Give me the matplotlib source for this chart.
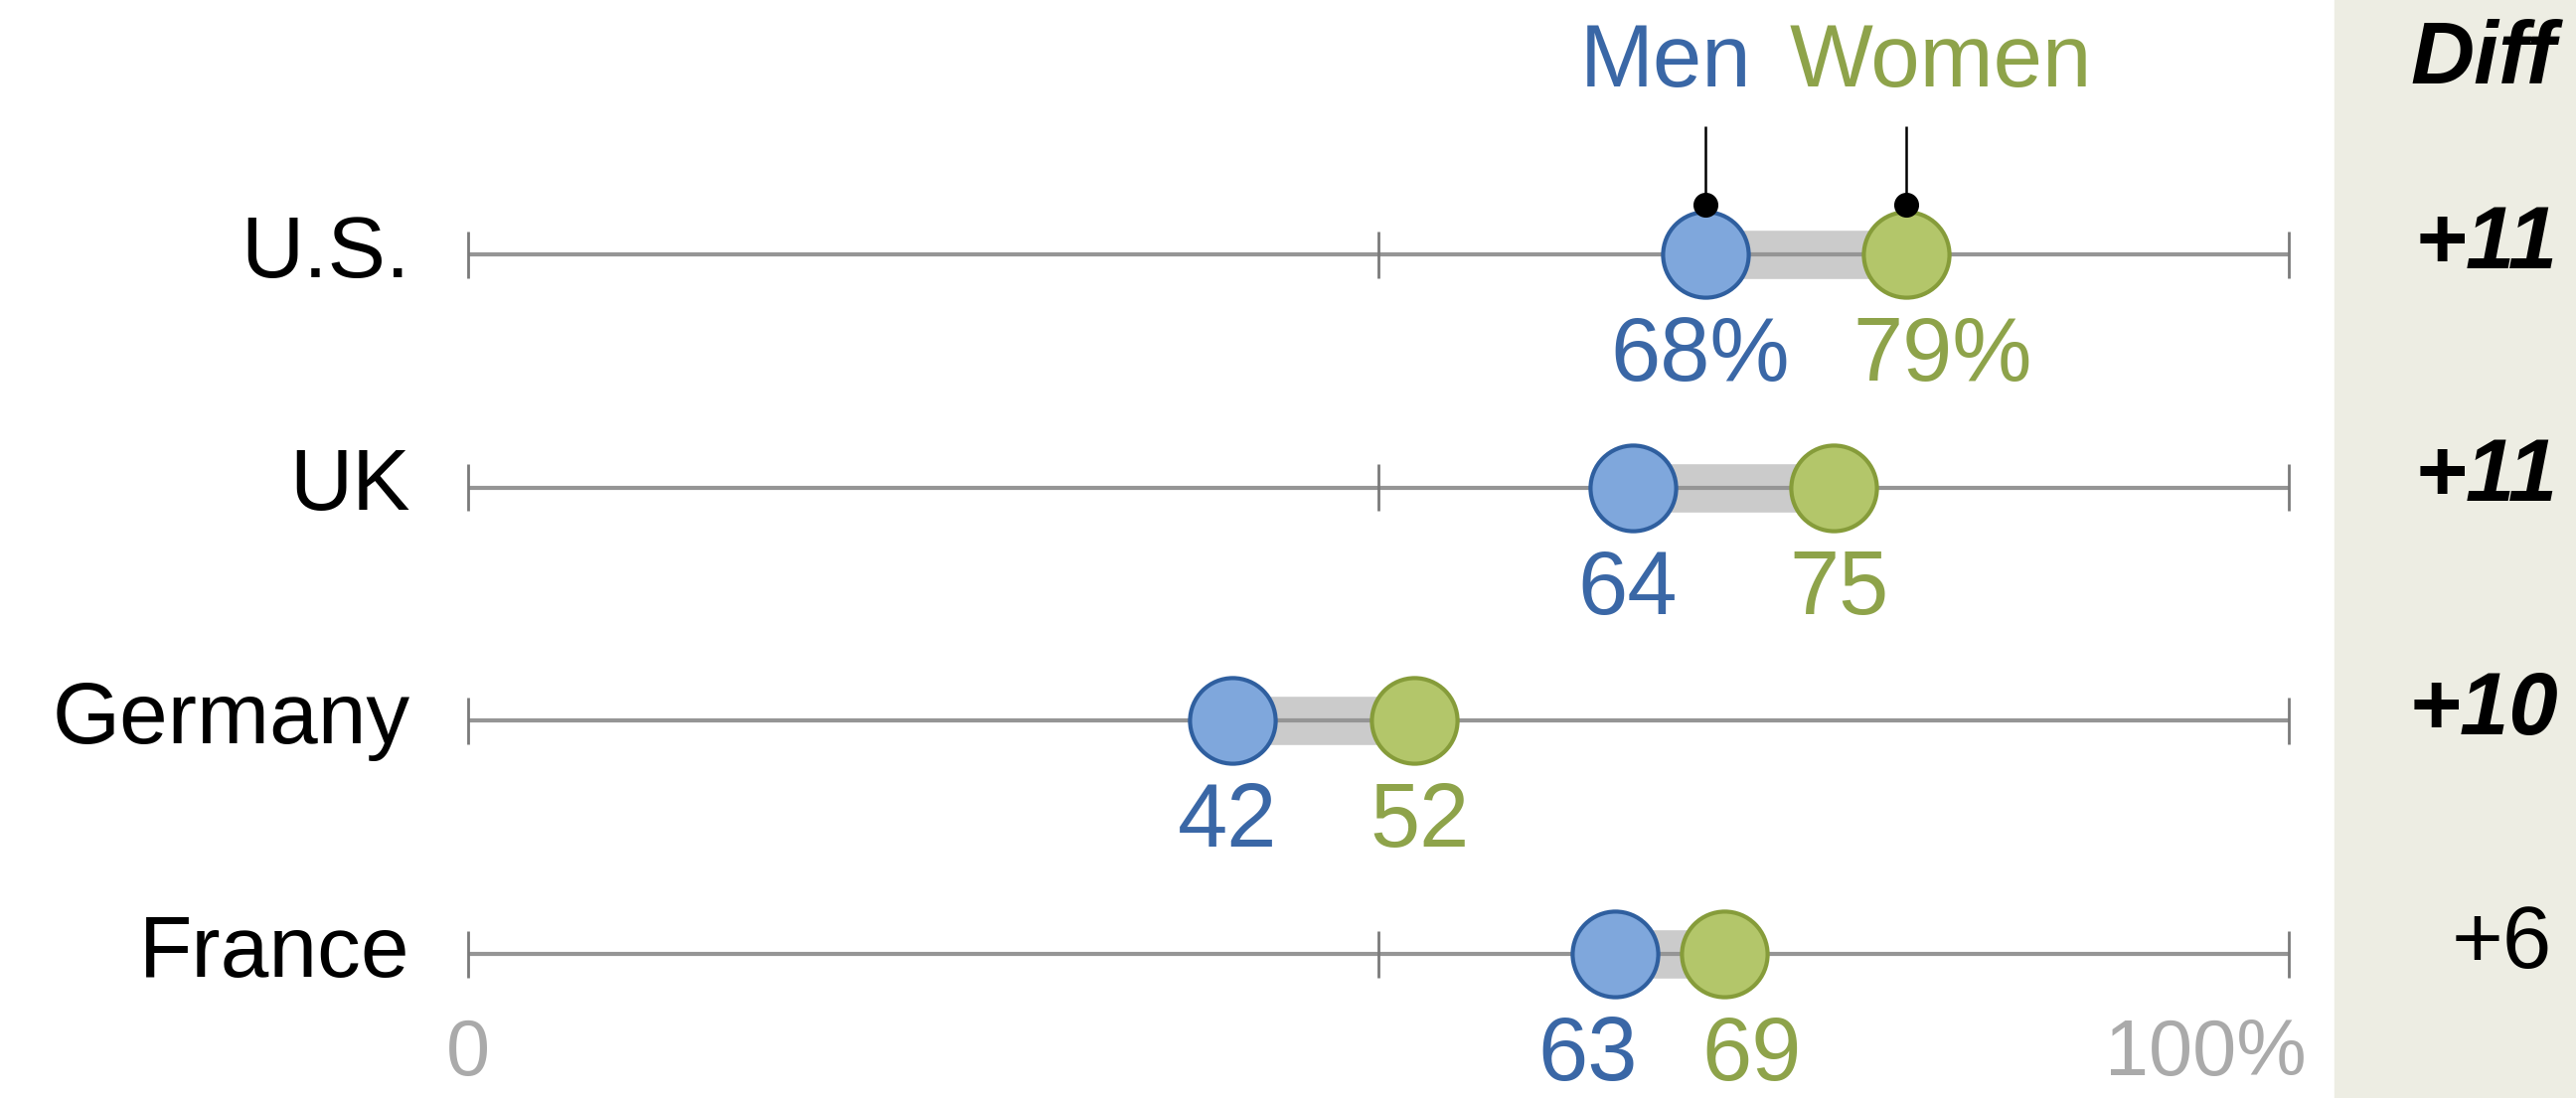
import matplotlib.pyplot as plt
import matplotlib.patches as patches

plt.rcParams['font.family'] = ['Liberation Sans', 'DejaVu Sans']

# data
countries = ["U.S.", "UK", "Germany", "France"]
men = [68, 64, 42, 63]
women = [79, 75, 52, 69]
significant = [True, True, True, False]
scale_ticks = [0, 50, 100]

men_fill = "#7fa7dc"
men_edge = "#2f5f9f"
men_text = "#3a67a6"
women_fill = "#b3c66a"
women_edge = "#869c3a"
women_text = "#8ea34a"

fig = plt.figure(figsize=(25.92, 11.05), dpi=100)
ax = fig.add_axes([0, 0, 1, 1])
ax.set_xlim(-25.69, 115.79)
ax.set_ylim(3.617, -1.091)
ax.axis("off")

# beige panel for the difference column
ax.add_patch(patches.Rectangle((2349 / 2592, 0), 1 - 2349 / 2592, 1,
                               transform=ax.transAxes, color="#ededE3", zorder=0))

rows = list(range(len(countries)))

#the scale lines with ticks at 0, 50 and 100
ax.hlines(rows, scale_ticks[0], scale_ticks[-1], color="#959595", lw=3, zorder=2)
for r in rows:
    ax.vlines(scale_ticks, r - 0.1, r + 0.1, color="#7a7a7a", lw=2, zorder=2)

#gray bar between the two dots
ax.hlines(rows, men, women, color="#cbcbcb", lw=35, zorder=1)

ax.scatter(men, rows, s=3850, color=men_fill, edgecolors=men_edge, linewidths=3, zorder=3)
ax.scatter(women, rows, s=3850, color=women_fill, edgecolors=women_edge, linewidths=3, zorder=3)

#value labels under the dots
for i, r in enumerate(rows):
    suffix = "%" if i == 0 else ""
    spread = 1.2 if women[i] - men[i] < 8 else 0.0
    w_nudge = 2.0 if suffix else 0.3
    ax.text(men[i] - 0.3 - spread, r + 0.44, str(men[i]) + suffix, color=men_text,
            fontsize=65, ha="center", va="center")
    ax.text(women[i] + w_nudge + spread, r + 0.44, str(women[i]) + suffix, color=women_text,
            fontsize=65, ha="center", va="center")
    ax.text(-3.15, r, countries[i], fontsize=63, ha="right", va="center", color="black")
    diff = women[i] - men[i]
    if significant[i]:
        ax.text(2574 / 2592, r - 0.04, "+" + str(diff), transform=ax.get_yaxis_transform(),
                fontsize=64, ha="right", va="center", fontweight="bold", style="italic")
    else:
        ax.text(2568 / 2592, r - 0.04, "+" + str(diff), transform=ax.get_yaxis_transform(),
                fontsize=64, ha="right", va="center")

#legend labels with leader lines to the U.S. dots
ax.text(men[0] - 2.2, -0.82, "Men", color=men_text, fontsize=64, ha="center", va="center")
ax.text(women[0] + 1.9, -0.82, "Women", color=women_text, fontsize=64, ha="center", va="center")
ax.vlines([men[0], women[0]], -0.55, -0.22, color="black", lw=1.8, zorder=4)
ax.scatter([men[0], women[0]], [-0.215, -0.215], s=290, color="black", zorder=4)

ax.text(2572 / 2592, -0.83, "Diff", transform=ax.get_yaxis_transform(),
        fontsize=64, ha="right", va="center", fontweight="bold", style="italic")

#axis end labels
ax.text(scale_ticks[0], 3.43, "0", color="#aaaaaa", fontsize=57, ha="center", va="center")
ax.text(scale_ticks[-1] + 1.0, 3.43, "100%", color="#aaaaaa", fontsize=57, ha="right", va="center")

fig.savefig("out.png", dpi=100)
